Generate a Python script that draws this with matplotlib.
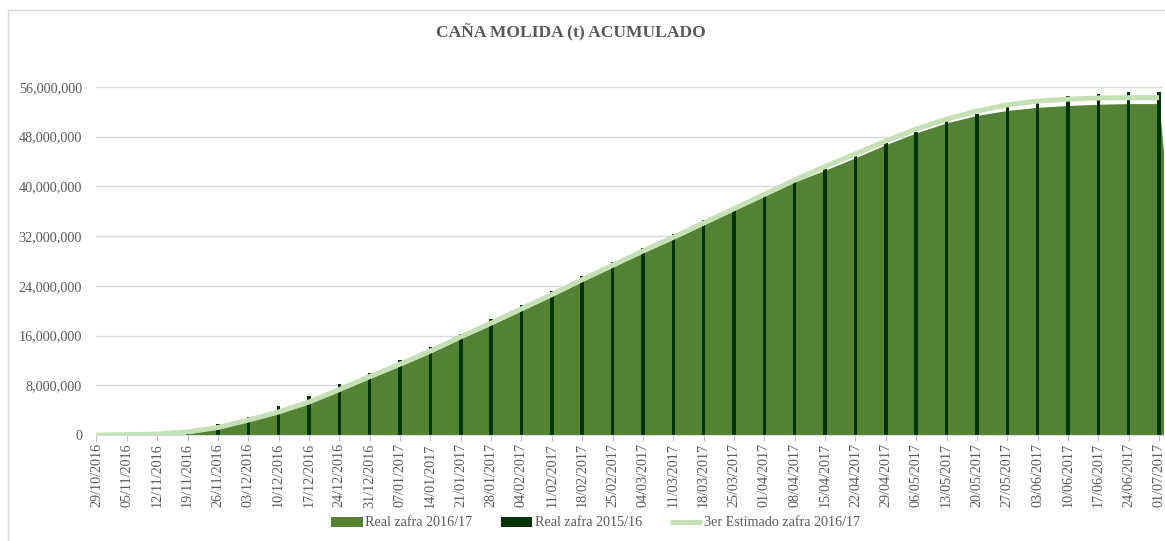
import matplotlib
matplotlib.use("Agg")
import matplotlib.pyplot as plt
import matplotlib.ticker as mticker
from matplotlib.patches import Rectangle
import numpy as np
import pandas as pd

# weekly dates (last one only closes the area series)
fechas = pd.date_range("2016-10-29", "2017-07-08", freq="7D")

# millions of tonnes
real_1617 = [0, 0, 0, 0.2, 1.0, 2.2, 3.5, 5.1, 7.1, 9.1, 11.1, 13.2, 15.5, 17.7,
             20.0, 22.3, 24.7, 27.0, 29.3, 31.5, 33.8, 36.1, 38.4, 40.7, 42.6,
             44.6, 46.7, 48.6, 50.2, 51.4, 52.2, 52.7, 53.0, 53.2, 53.3, 53.3, 0]
real_1516 = [0, 0, 0.37, 0.8, 1.7, 2.9, 4.6, 6.3, 8.2, 9.95, 12.0, 14.1, 16.3,
             18.6, 20.9, 23.2, 25.5, 27.8, 30.1, 32.3, 34.6, 36.6, 38.5, 40.7,
             42.7, 44.9, 47.0, 48.8, 50.5, 51.7, 52.8, 54.0, 54.6, 54.9, 55.1,
             55.2, np.nan]
estimado_1617 = [0, 0.05, 0.15, 0.5, 1.2, 2.4, 3.7, 5.3, 7.3, 9.4, 11.4, 13.5,
                 15.8, 18.0, 20.3, 22.6, 25.0, 27.3, 29.6, 31.8, 34.1, 36.4,
                 38.7, 41.0, 43.2, 45.2, 47.3, 49.2, 50.8, 52.1, 53.1, 53.7,
                 54.0, 54.2, 54.25, 54.25, np.nan]

dias = np.asarray((fechas - fechas[0]).days, dtype=float)
etiquetas = [f.strftime("%d/%m/%Y") for f in fechas]
to_t = lambda v: np.asarray(v, dtype=float) * 1e6

plt.rcParams["font.family"] = ["Liberation Serif", "DejaVu Serif"]
gris = "#595959"

fig = plt.figure(figsize=(11.65, 5.41), dpi=100)
ax = fig.add_axes([96 / 1165, 1 - 435 / 541, (1163 - 96) / 1165, (435 - 86.8) / 541])

area = ax.fill_between(dias, to_t(real_1617), color="#548235", lw=0, zorder=2,
                       label="Real zafra 2016/17")
barras = ax.bar(dias, to_t(real_1516), width=0.8, color="#003300", zorder=3,
                label="Real zafra 2015/16")
linea, = ax.plot(dias, to_t(estimado_1617), color="#C5E0B4", lw=3.6, zorder=4,
                 solid_capstyle="butt", label="3er Estimado zafra 2016/17")

ax.set_xlim(-0.1, 245.9)
ax.set_ylim(0, 56e6)
ax.yaxis.set_major_locator(mticker.MultipleLocator(8e6))
ax.yaxis.set_major_formatter(mticker.FuncFormatter(lambda v, p: f"{v:,.0f}"))
ax.grid(axis="y", color="#D9D9D9", lw=1, zorder=0)
ax.set_axisbelow(True)

ax.set_xticks(dias[:-1])
ax.set_xticklabels(etiquetas[:-1], rotation=90, fontsize=10.2, color=gris)
ax.tick_params(axis="x", length=4, color="#BFBFBF", pad=2)
ax.tick_params(axis="y", length=0, labelsize=10.2, labelcolor=gris, pad=10)
for s in ["top", "right", "left"]:
    ax.spines[s].set_visible(False)
ax.spines["bottom"].set_color("#D9D9D9")
ax.spines["bottom"].set_zorder(5)

fig.text(571 / 1165, 1 - 33 / 541, "CAÑA MOLIDA (t) ACUMULADO", ha="center",
         va="center", fontsize=12.6, fontweight="bold", color=gris)

fig.legend([area, barras, linea],
           ["Real zafra 2016/17", "Real zafra 2015/16", "3er Estimado zafra 2016/17"],
           loc="center", bbox_to_anchor=(596 / 1165, 1 - 523 / 541),
           ncol=3, frameon=False, fontsize=10.2, labelcolor=gris,
           handlelength=2.2, handletextpad=0.2, columnspacing=2.0)

# chart area border
fig.patches.append(Rectangle((8 / 1165, -0.1), 1.2, 1 - 10 / 541 + 0.1,
                             transform=fig.transFigure, fill=False,
                             ec="#D9D9D9", lw=1))

fig.savefig("out.png", dpi=100)
